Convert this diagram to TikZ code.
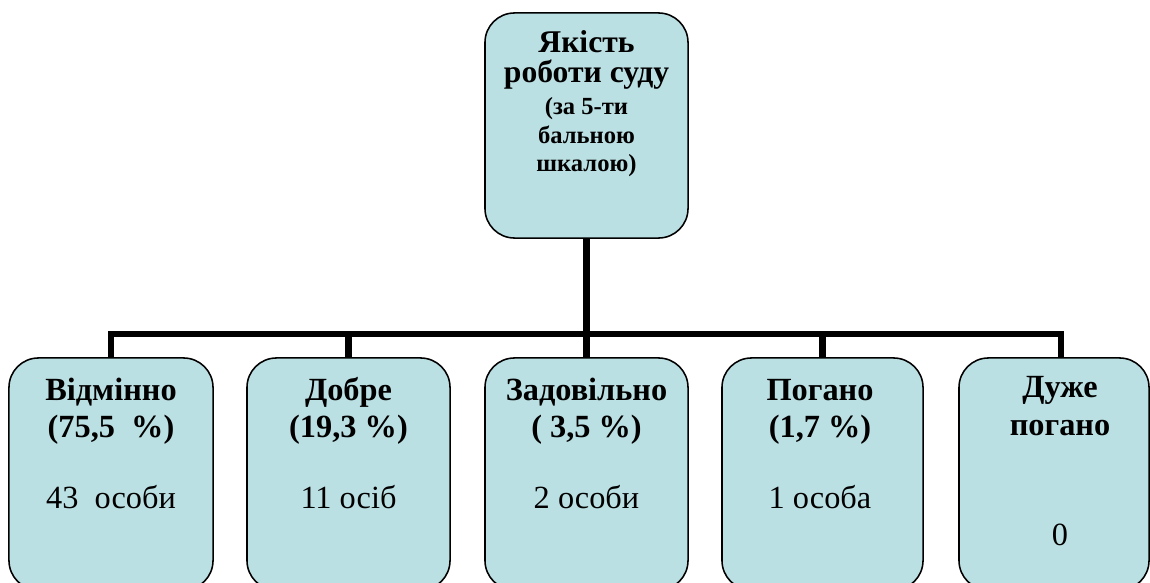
\documentclass[tikz,border=0pt]{standalone}
\usepackage{fontspec}
\setmainfont{Liberation Serif}
\usetikzlibrary{positioning}
\definecolor{cardblue}{RGB}{187,224,227}
\tikzset{
  card/.style={draw=black,line width=1.1pt,fill=cardblue,rounded corners=21pt,inner sep=0pt},
  grade/.style={align=center,anchor=base,inner sep=0pt,font=\rmfamily\fontsize{23}{27}\selectfont},
  link/.style={line width=4.3pt}
}

\begin{document}
\begin{tikzpicture}[x=0.025cm,y=-0.025cm]
\useasboundingbox (0,0) rectangle (1150,583);
\clip (0,0) rectangle (1150,583);
% boxes
\node[card,minimum width=5.075cm,minimum height=5.625cm] (Q) at (586.5,125.5) {};
\node[card,minimum width=5.1cm,minimum height=5.8cm] (G1) at (111,474) {};
\node[card,minimum width=5.075cm,minimum height=5.8cm] (G2) at (348.5,474) {};
\node[card,minimum width=5.075cm,minimum height=5.8cm] (G3) at (586.5,474) {};
\node[card,minimum width=5.025cm,minimum height=5.8cm] (G4) at (822.5,474) {};
\node[card,minimum width=4.75cm,minimum height=5.8cm] (G5) at (1054,474) {};
% texts (anchor base = last line)
\node[align=center,anchor=base,inner sep=0pt,font=\rmfamily\bfseries\fontsize{22.5}{21.5}\selectfont] (Qt) at (586.5,83) {Якість\\роботи суду};
\node[align=center,anchor=base,inner sep=0pt,font=\rmfamily\bfseries\fontsize{17.5}{20.3}\selectfont] (Qs) at (586.5,172) {(за 5-ти\\бальною\\шкалою)};
\node[grade] (T1) at (111,508) {\textbf{Відмінно}\\\textbf{(75,5\ \ \%)}\\[22.8pt]43\ \ особи};
\node[grade] (T2) at (348.5,508) {\textbf{Добре}\\\textbf{(19,3 \%)}\\[22.8pt]11 осіб};
\node[grade] (T3) at (586.5,508) {\textbf{Задовільно}\\\textbf{( 3,5 \%)}\\[22.8pt]2 особи};
\node[grade] (T4) at (820,508) {\textbf{Погано}\\\textbf{(1,7 \%)}\\[22.8pt]1 особа};
\node[grade] (T5) at (1060,545) {\textbf{Дуже}\\\textbf{погано}\\[51pt]0};
% connectors
\coordinate (hub) at (586.5,334);
\coordinate (D5) at (1061,358);
\draw[link] (Q.south) -- (G3.north);
\draw[link] (G1.north) -- (G1.north |- hub) -- (D5 |- hub) -- (D5);
\draw[link] (hub -| G2.north) -- (G2.north);
\draw[link] (hub -| G4.north) -- (G4.north);
\end{tikzpicture}
\end{document}
